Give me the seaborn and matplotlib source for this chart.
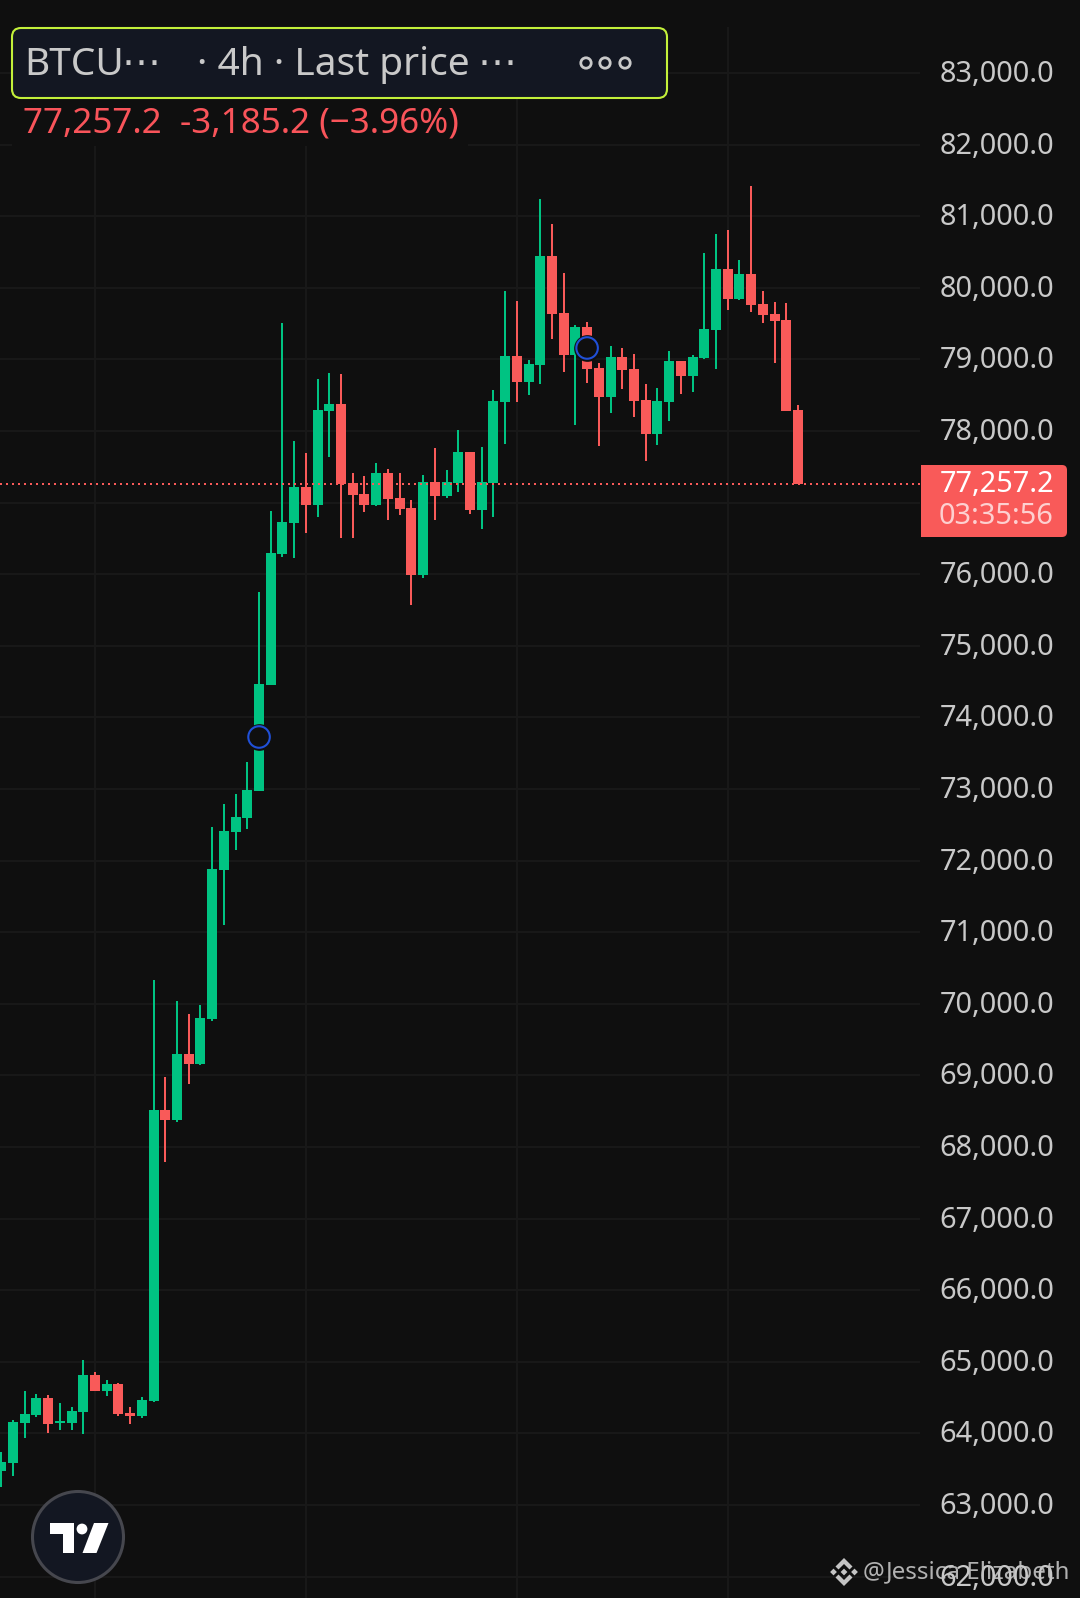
import numpy as np
import pandas as pd
import matplotlib
matplotlib.use("Agg")
import matplotlib.pyplot as plt
import seaborn as sns
from matplotlib.patches import Circle, FancyBboxPatch, Polygon, Rectangle
from matplotlib.transforms import ScaledTranslation

# 4h candles, prices
highs = [63741, 64188, 64593, 64551, 64537, 64426, 64370, 65026, 64859, 64747,
         64705, 64370, 64509, 70333, 68979, 70040, 69858, 69984, 72470, 72791,
         72931, 73378, 75752, 76883, 79509, 77861, 77693, 78727, 78811, 78797,
         77414, 77372, 77554, 77470, 77414, 77037, 77386, 77763, 77456, 78015,
         77707, 77777, 78573, 79956, 79816, 78992, 81241, 80892, 80207, 79481,
         79523, 78950, 79188, 79160, 79076, 78657, 78601, 79118, 78978, 79062,
         80487, 80752, 80808, 80389, 81422, 79956, 79802, 79788, 78364]
lows = [63253, 63406, 63937, 64230, 64007, 64049, 64049, 63993, 64593, 64523,
        64244, 64132, 64216, 64440, 67792, 68350, 68881, 69146, 69761, 71101,
        72149, 72442, 72973, 74453, 76241, 76227, 76576, 76800, 77638, 76506,
        76506, 76869, 76953, 76758, 76828, 75571, 75948, 76758, 77065, 77149,
        76841, 76632, 76800, 77819, 78406, 78503, 78657, 79286, 78825, 78084,
        78671, 77791, 78252, 78587, 78196, 77582, 77805, 78140, 78517, 78545,
        79006, 78867, 79691, 79830, 79663, 79509, 78950, 78280, 77257.2]
opens = [63476, 63588, 64146, 64258, 64496, 64146, 64146, 64300, 64817, 64593,
         64691, 64286, 64244, 64454, 68518, 68378, 69300, 69160, 69789, 71870,
         72400, 72596, 72973, 74453, 76283, 76716, 77219, 76967, 78280, 78378,
         77274, 77121, 76967, 77414, 77065, 76925, 75990, 77288, 77093, 77274,
         77707, 76897, 77274, 78406, 79048, 78685, 78922, 80445, 79649, 79062,
         79453, 78881, 78475, 79034, 78867, 78434, 77959, 78406, 78978, 78769,
         79020, 79411, 80263, 79844, 80193, 79774, 79635, 79551, 78294]
closes = [63602, 64160, 64272, 64496, 64132, 64174, 64314, 64817, 64593, 64691,
          64272, 64244, 64468, 68518, 68378, 69300, 69160, 69803, 71884, 72414,
          72610, 72987, 74467, 76297, 76730, 77219, 76967, 78294, 78378, 77260,
          77107, 76967, 77414, 77051, 76911, 75990, 77288, 77093, 77288, 77707,
          76897, 77288, 78420, 79048, 78685, 78936, 80445, 79635, 79062, 79453,
          78867, 78475, 79034, 78853, 78420, 77959, 78420, 78978, 78769, 79034,
          79425, 80263, 79844, 80193, 79760, 79621, 79537, 78280, 77257.2]

price_ticks = list(range(62000, 84000, 1000))
time_ticks = [8, 26, 44, 62]
signal_idx = [22, 50]
signal_price = [73727, 79160]
last_price = 77257.2

BG = "#0f0f0f"
GRID = "#181818"
UP = "#00c382"
DOWN = "#f95a59"
LABEL = "#c9c9c9"

sns.set_theme(style="dark", rc={"figure.facecolor": BG, "axes.facecolor": BG,
                                "savefig.facecolor": BG})
plt.rcParams["font.family"] = ["Noto Sans", "DejaVu Sans"]

df = pd.DataFrame({"open": opens, "high": highs, "low": lows, "close": closes})
df["i"] = df.index
df["up"] = df["close"] >= df["open"]
df["color"] = np.where(df["up"], UP, DOWN)

fig = plt.figure(figsize=(10.8, 15.98), dpi=100)
ax = fig.add_axes([0, 0, 920 / 1080, (1598 - 27) / 1598])

px_per_bar = 11.716
ax.set_xlim(-1.3 / px_per_bar, (920 - 1.3) / px_per_bar)
ax.set_ylim(84020 - 13.966 * 1598, 84020 - 13.966 * 27)

# grid
ax.set_xticks(time_ticks)
ax.set_yticks(price_ticks)
ax.set_yticklabels([f"{p:,.1f}" for p in price_ticks], fontsize=20.8, color=LABEL)
ax.yaxis.tick_right()
ax.tick_params(axis="y", length=0, pad=14.0)
ax.tick_params(axis="x", length=0, labelbottom=False)
ax.grid(True, color=GRID, linewidth=1.44, zorder=0)
ax.set_axisbelow(True)
for s in ax.spines.values():
    s.set_visible(False)
for lab in ax.get_yticklabels():
    lab.set_transform(lab.get_transform() + ScaledTranslation(0, 2 / 100, fig.dpi_scale_trans))

# candles
ax.vlines(df["i"], df["low"], df["high"], colors=df["color"], linewidth=1.44, zorder=2)
ax.bar(df["i"], (df["close"] - df["open"]).abs().clip(lower=28),
       bottom=df[["open", "close"]].min(axis=1), width=0.854,
       color=df["color"], linewidth=0, zorder=3)

# last price line
ax.axhline(last_price, color=DOWN, linewidth=1.44, linestyle=(0, (1, 2)),
           dash_capstyle="butt", zorder=4)

# blue signal rings
sns.scatterplot(x=signal_idx, y=signal_price, ax=ax, s=370, color=BG, linewidth=0, zorder=5)
sns.scatterplot(x=signal_idx, y=signal_price, ax=ax, s=240, facecolor="none",
                edgecolor="#2050d8", linewidth=1.5, zorder=6)

# overlay in pixel coordinates for the app furniture
ov = fig.add_axes([0, 0, 1, 1], zorder=10)
ov.set_xlim(0, 1080)
ov.set_ylim(1598, 0)
ov.axis("off")
ov.patch.set_alpha(0)

# header pill
ov.add_patch(FancyBboxPatch((12, 28), 655, 70, boxstyle="round,pad=0,rounding_size=9",
                            facecolor="#131722", edgecolor="#c3f03a", linewidth=1.5))
ov.text(24, 65, "BTCU", fontsize=28, color=LABEL, va="center", ha="left")
ov.text(122, 65, "\u22ef", fontsize=28, color=LABEL, va="center", ha="left")
ov.text(197, 65, "\u00b7 4h \u00b7 Last price", fontsize=28, color=LABEL, va="center", ha="left")
ov.text(478, 65, "\u22ef", fontsize=28, color=LABEL, va="center", ha="left")
for cx in (586, 605, 625):
    ov.add_patch(Circle((cx, 63), 5.2, facecolor="none", edgecolor=LABEL, linewidth=2))

# legend row
ov.add_patch(Rectangle((12, 100), 456, 46, facecolor=BG, linewidth=0))
ov.text(23, 123, "77,257.2  -3,185.2 (\u22123.96%)", fontsize=25.2, color="#f9545a",
        va="center", ha="left")

# price tag
ov.add_patch(Rectangle((921, 465), 135, 72, facecolor=DOWN, linewidth=0))
ov.add_patch(FancyBboxPatch((930, 465), 137, 72, boxstyle="round,pad=0,rounding_size=5",
                            facecolor=DOWN, linewidth=0))
ov.text(1054, 485, "77,257.2", fontsize=20.8, color="white", va="center", ha="right")
ov.text(1054, 517, "03:35:56", fontsize=20.8, color="#fdd0d0", va="center", ha="right")

# TradingView badge
ov.add_patch(Circle((78, 1537), 45.5, facecolor="#131722", edgecolor="#46474e", linewidth=2.2))
ov.add_patch(Polygon([(50, 1523), (74, 1523), (74, 1553), (63, 1553), (63, 1534), (50, 1534)],
                     facecolor="white", linewidth=0))
ov.add_patch(Circle((82, 1529), 5.4, facecolor="white", linewidth=0))
ov.add_patch(Polygon([(94, 1523), (108.5, 1523), (96.5, 1553), (82.5, 1553)],
                     facecolor="white", linewidth=0))

# watermark
wm = "#c4c4c4"
ov.text(863, 1572, "@", fontsize=17.4, color=wm, va="center", ha="left", alpha=0.9, zorder=12)
ov.text(886, 1572, "Jessica Elizabeth", fontsize=17.4, color=wm, va="center", ha="left",
        alpha=0.9, zorder=12)
cx, cy = 844, 1572
for sign in (1, -1):
    ov.add_patch(Polygon([(cx, cy - 14 * sign), (cx + 8.5, cy - 5.5 * sign), (cx + 5.5, cy - 2.5 * sign),
                          (cx, cy - 8 * sign), (cx - 5.5, cy - 2.5 * sign), (cx - 8.5, cy - 5.5 * sign)],
                         facecolor=wm, linewidth=0, zorder=12))
for ox, r in [(-10.5, 3.4), (10.5, 3.4), (0, 3.4)]:
    ov.add_patch(Polygon([(cx + ox - r, cy), (cx + ox, cy - r), (cx + ox + r, cy), (cx + ox, cy + r)],
                         facecolor=wm, linewidth=0, zorder=12))

fig.savefig("out.png", dpi=100)
